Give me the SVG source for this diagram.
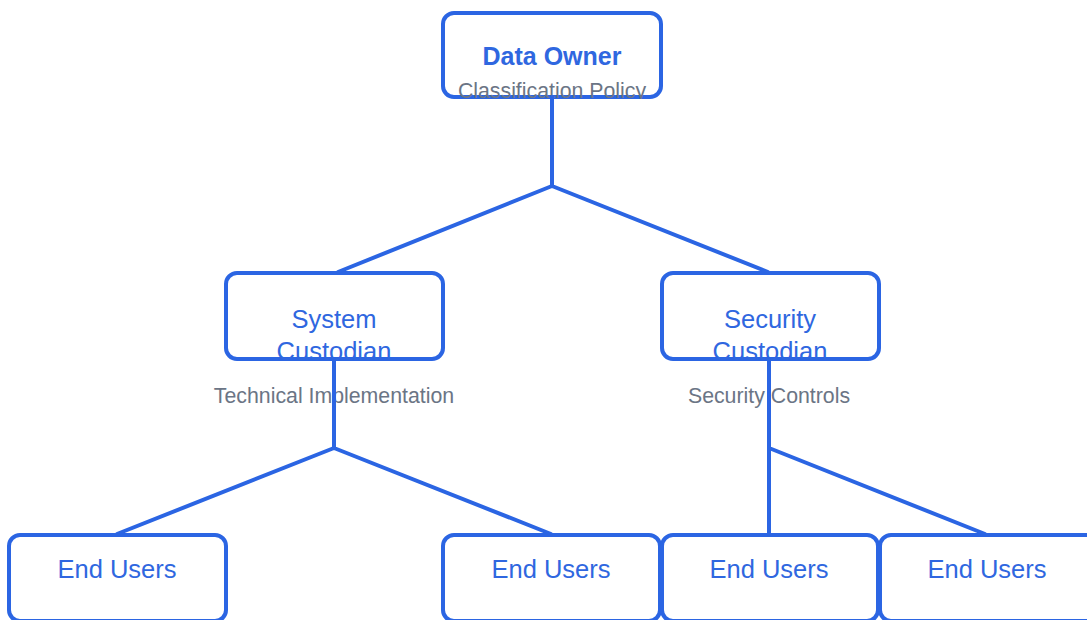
<svg xmlns="http://www.w3.org/2000/svg" width="1087" height="620" viewBox="0 0 1087 620">
<style>
.box{fill:#ffffff;stroke:#2b65e3;stroke-width:4}
.lbl{font-family:"Liberation Sans",Arial,sans-serif;font-size:25.5px;fill:#2f67e0;text-anchor:middle}
.b{font-weight:bold;font-size:25px}
.sub{font-family:"Liberation Sans",Arial,sans-serif;font-size:21.3px;fill:#6b7585;text-anchor:middle}
.con{stroke:#2b65e3;stroke-width:4;fill:none;stroke-linecap:round;stroke-linejoin:round}
</style>
<defs>
<clipPath id="c0"><rect x="441" y="11" width="222" height="88"/></clipPath>
<clipPath id="c1"><rect x="224" y="271" width="221" height="89"/></clipPath>
<clipPath id="c2"><rect x="660" y="271" width="221" height="89"/></clipPath>
</defs>
<rect width="1087" height="620" fill="#ffffff"/>
<g id="n-owner">
<rect class="box" x="443" y="13" width="218" height="84" rx="11"/>
<g clip-path="url(#c0)">
<text class="lbl b" x="552" y="65">Data Owner</text>
<text class="sub" x="552" y="98">Classification Policy</text>
</g>
</g>
<g id="n-syscust">
<rect class="box" x="226" y="273" width="217" height="86" rx="11"/>
<g clip-path="url(#c1)">
<text class="lbl" x="334" y="328">System</text>
<text class="lbl" x="334" y="360">Custodian</text>
</g>
</g>
<g id="n-seccust">
<rect class="box" x="662" y="273" width="217" height="86" rx="11"/>
<g clip-path="url(#c2)">
<text class="lbl" x="770" y="328">Security</text>
<text class="lbl" x="770" y="360">Custodian</text>
</g>
</g>
<g id="n-eu1">
<rect class="box" x="9" y="535" width="217" height="86" rx="11"/>
<text class="lbl" x="117" y="578">End Users</text>
</g>
<g id="n-eu2">
<rect class="box" x="443" y="535" width="217" height="86" rx="11"/>
<text class="lbl" x="551" y="578">End Users</text>
</g>
<g id="n-eu3">
<rect class="box" x="662" y="535" width="216" height="86" rx="11"/>
<text class="lbl" x="769" y="578">End Users</text>
</g>
<g id="n-eu4">
<rect class="box" x="880" y="535" width="217" height="86" rx="11"/>
<text class="lbl" x="987" y="578">End Users</text>
</g>
<g id="labels">
<text class="sub" x="334" y="403">Technical Implementation</text>
<text class="sub" x="769" y="403">Security Controls</text>
</g>
<g id="connectors">
<path class="con" d="M552 97 V186 M552 186 L338 272 M552 186 L768 272"/>
<path class="con" d="M334 359 V448 M334 448 L117 534 M334 448 L551 534"/>
<path class="con" d="M769 359 V534 M769 448 L985 534"/>
</g>
</svg>
